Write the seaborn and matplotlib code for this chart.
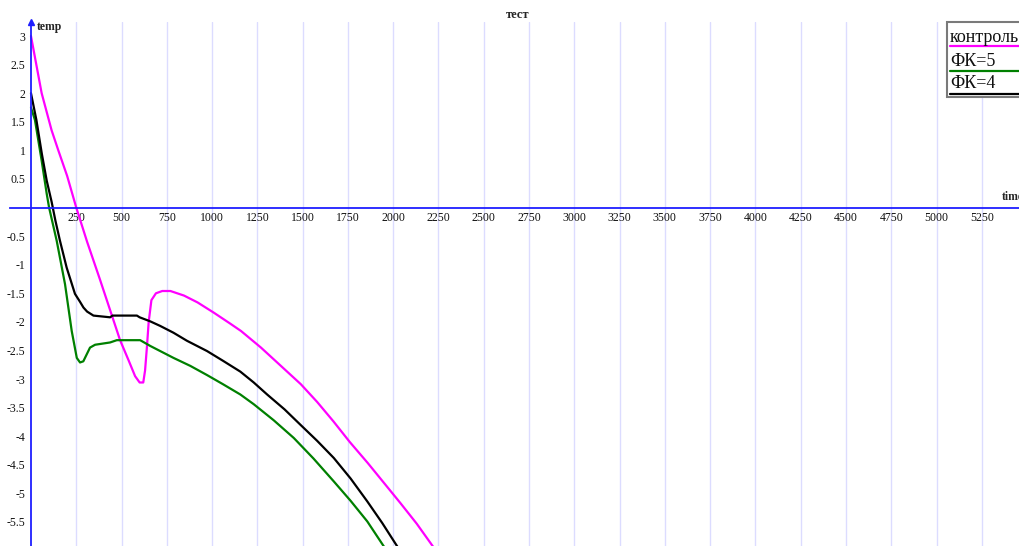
import pandas as pd
import matplotlib.pyplot as plt
import seaborn as sns
from matplotlib.patches import Rectangle
from matplotlib.lines import Line2D

# series
series_names = ['контроль', 'ФК=5', 'ФК=4']
series_colors = ['#ff00ff', '#008000', '#000000']

control_time = [0, 59, 114, 151, 200, 250, 310, 380, 446, 492, 540, 575, 600, 620,
                630, 640, 650, 665, 690, 725, 770, 845, 920, 1010, 1100, 1160, 1270,
                1380, 1490, 1580, 1670, 1760, 1860, 1950, 2040, 2130, 2220]
control_temp = [3.0, 2.0, 1.35, 1.0, 0.55, 0.0, -0.6, -1.25, -1.88, -2.32, -2.68,
                -2.95, -3.06, -3.06, -2.85, -2.45, -2.0, -1.62, -1.5, -1.46, -1.46,
                -1.54, -1.66, -1.84, -2.03, -2.16, -2.45, -2.77, -3.09, -3.4, -3.74,
                -4.1, -4.47, -4.82, -5.17, -5.53, -5.93]

fk5_time = [0, 22, 59, 87, 100, 142, 188, 225, 253, 271, 289, 326, 354, 437, 474,
            603, 658, 787, 880, 972, 1060, 1156, 1230, 1340, 1451, 1560, 1672, 1765,
            1857, 1949]
fk5_temp = [1.75, 1.53, 0.82, 0.24, 0.0, -0.58, -1.34, -2.16, -2.63, -2.71, -2.69,
            -2.45, -2.4, -2.36, -2.32, -2.32, -2.42, -2.63, -2.77, -2.93, -3.09,
            -3.27, -3.44, -3.72, -4.03, -4.39, -4.79, -5.13, -5.49, -5.93]

fk4_time = [0, 30, 60, 87, 114, 135, 160, 197, 243, 271, 290, 310, 345, 437, 450,
            492, 585, 600, 658, 713, 787, 861, 972, 1060, 1156, 1230, 1304, 1400,
            1488, 1580, 1672, 1765, 1857, 1940, 2023]
fk4_temp = [2.0, 1.53, 0.94, 0.47, 0.1, -0.23, -0.58, -1.05, -1.51, -1.65, -1.75,
            -1.82, -1.89, -1.92, -1.89, -1.89, -1.89, -1.92, -1.99, -2.07, -2.19,
            -2.33, -2.51, -2.68, -2.87, -3.06, -3.27, -3.53, -3.8, -4.08, -4.38,
            -4.74, -5.14, -5.52, -5.93]

x_ticks = list(range(250, 5251, 250))
y_ticks = [3, 2.5, 2, 1.5, 1, 0.5, -0.5, -1, -1.5, -2, -2.5, -3, -3.5, -4, -4.5, -5, -5.5]

df = pd.concat([
    pd.DataFrame({'time': control_time, 'temp': control_temp, 'series': series_names[0]}),
    pd.DataFrame({'time': fk5_time, 'temp': fk5_temp, 'series': series_names[1]}),
    pd.DataFrame({'time': fk4_time, 'temp': fk4_temp, 'series': series_names[2]}),
])

sns.set_style('white')
plt.rcParams['font.family'] = ['Liberation Serif', 'DejaVu Serif']

W, H = 1020, 546
fig = plt.figure(figsize=(W / 100, H / 100), dpi=100)
ax = fig.add_axes([0, 0, 1, (H - 22) / H])

sns.lineplot(data=df, x='time', y='temp', hue='series', palette=series_colors,
             hue_order=series_names, estimator=None, sort=False, legend=False,
             linewidth=1.6, ax=ax)

ax.set_xlim(-171, 5461)
ax.set_ylim(-5.92, 3.245)

# axes crossing at the origin, blue like the original
axis_blue = '#1f1fff'
for s in ['top', 'right']:
    ax.spines[s].set_visible(False)
ax.spines['left'].set_position(('data', 0))
ax.spines['bottom'].set_position(('data', 0))
ax.spines['bottom'].set_bounds(-115, 5461)
for s in ['left', 'bottom']:
    ax.spines[s].set_color(axis_blue)
    ax.spines[s].set_linewidth(1.3)
ax.plot([0], [1], marker='^', color=axis_blue, markersize=5,
        transform=ax.get_xaxis_transform(), clip_on=False)

ax.set_xticks(x_ticks)
ax.set_xticklabels([str(t) for t in x_ticks])
ax.set_yticks(y_ticks)
ax.set_yticklabels([f'{t:g}' for t in y_ticks])
ax.tick_params(axis='x', direction='inout', length=6, color=axis_blue, pad=0.5,
               labelsize=8.5, labelcolor='#111111')
ax.tick_params(axis='y', direction='out', length=3, color=axis_blue, pad=1,
               labelsize=8.5, labelcolor='#111111')
ax.set_xlabel('')
ax.set_ylabel('')

ax.grid(axis='x', color='#dcdcff', linewidth=1)
ax.set_axisbelow(True)

# texts
fig.text(518 / W, 1 - 14.5 / H, 'тест', ha='center', va='center',
         fontweight='bold', fontsize=9)
fig.text(37 / W, 1 - 27 / H, 'temp', ha='left', va='center',
         fontweight='bold', fontsize=8.5)
fig.text(1002 / W, 1 - 197 / H, 'time', ha='left', va='center',
         fontweight='bold', fontsize=8.5)

# legend box drawn like the original (text with a coloured underline)
fig.add_artist(Rectangle((947 / W, 1 - 97 / H), 90 / W, 75 / H,
                         transform=fig.transFigure, facecolor='white',
                         edgecolor='#7a7a7a', linewidth=1.5, zorder=5))
row_text_y = [37, 61, 84]
row_line_y = [45.5, 70.5, 94]
for name, color, ty, ly in zip(series_names, series_colors, row_text_y, row_line_y):
    fig.text(950 / W, 1 - ty / H, name, ha='left', va='center', fontsize=13,
             color='#111111', zorder=6)
    fig.add_artist(Line2D([950 / W, 1.0], [1 - ly / H, 1 - ly / H],
                          transform=fig.transFigure, color=color,
                          linewidth=1.6, zorder=6))

plt.savefig('out.png', dpi=100)
